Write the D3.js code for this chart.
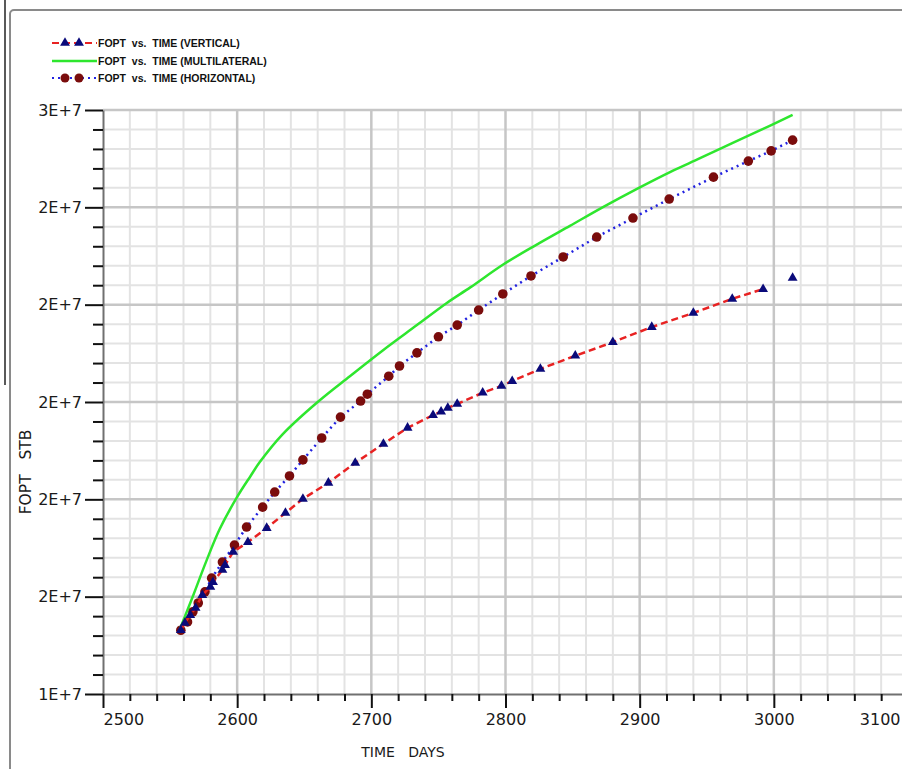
<!DOCTYPE html>
<html>
<head>
<meta charset="utf-8">
<script src="https://cdn.jsdelivr.net/npm/d3@7"></script>
<style>
  body { margin: 0; background: #fff; }
  svg { display: block; }
  .tick text { font-family: "DejaVu Sans", sans-serif; font-size: 16px; fill: #1a1a1a; }
</style>
</head>
<body>
<div id="chart_div"></div>
<script>
// FOPT (STB) vs time (days) for three well types
const timeVertical = [2558, 2561, 2565, 2569, 2574, 2580, 2582, 2589, 2591, 2597, 2608, 2622, 2636, 2649, 2668, 2688, 2709, 2727, 2746, 2752, 2757, 2764, 2783, 2797, 2805, 2826, 2852, 2880, 2909, 2940, 2969, 2992, 3014];
const foptVertical = [15.31e6, 15.46e6, 15.62e6, 15.77e6, 16.03e6, 16.20e6, 16.30e6, 16.55e6, 16.65e6, 16.92e6, 17.12e6, 17.41e6, 17.72e6, 18.01e6, 18.34e6, 18.75e6, 19.14e6, 19.47e6, 19.73e6, 19.80e6, 19.88e6, 19.96e6, 20.19e6, 20.33e6, 20.43e6, 20.68e6, 20.95e6, 21.23e6, 21.54e6, 21.83e6, 22.12e6, 22.32e6, 22.55e6];

const timeMulti = [2557, 2567, 2577, 2587, 2600, 2610, 2617, 2634, 2660, 2684, 2709, 2734, 2756, 2774, 2798, 2823, 2848, 2873, 2898, 2923, 2945, 2969, 2992, 3014];
const foptMulti = [15.31e6, 16.01e6, 16.73e6, 17.39e6, 18.05e6, 18.48e6, 18.77e6, 19.34e6, 20.00e6, 20.53e6, 21.07e6, 21.58e6, 22.03e6, 22.36e6, 22.82e6, 23.23e6, 23.62e6, 24.01e6, 24.38e6, 24.73e6, 25.01e6, 25.32e6, 25.61e6, 25.90e6];

const timeHoriz = [2558, 2563, 2567, 2571, 2576, 2581, 2589, 2598, 2607, 2619, 2628, 2639, 2649, 2663, 2677, 2692, 2697, 2713, 2721, 2734, 2750, 2764, 2780, 2798, 2819, 2843, 2868, 2895, 2922, 2955, 2981, 2998, 3014];
const foptHoriz = [15.31e6, 15.48e6, 15.69e6, 15.87e6, 16.10e6, 16.38e6, 16.71e6, 17.06e6, 17.43e6, 17.84e6, 18.15e6, 18.48e6, 18.81e6, 19.26e6, 19.69e6, 20.02e6, 20.16e6, 20.53e6, 20.74e6, 21.01e6, 21.34e6, 21.58e6, 21.89e6, 22.22e6, 22.59e6, 22.98e6, 23.39e6, 23.78e6, 24.17e6, 24.62e6, 24.95e6, 25.16e6, 25.38e6];

const xTickValues = [2500, 2600, 2700, 2800, 2900, 3000, 3100];
const yTickValues = [14e6, 16e6, 18e6, 20e6, 22e6, 24e6, 26e6];
const yTickLabels = ["1E+7", "2E+7", "2E+7", "2E+7", "2E+7", "2E+7", "3E+7"];

const legendLabels = ["FOPT  vs.  TIME (VERTICAL)", "FOPT  vs.  TIME (MULTILATERAL)", "FOPT  vs.  TIME (HORIZONTAL)"];

(function () {
  const W = 902, H = 769;
  const left = 103, top = 110, bottom = 694;

  const svg = d3.select("#chart_div").append("svg")
    .attr("width", W).attr("height", H);

  // outer frame + stray border line
  svg.append("rect")
    .attr("x", 10).attr("y", 10).attr("width", 910).attr("height", 780).attr("rx", 4)
    .attr("fill", "none").attr("stroke", "#8a8a8a").attr("stroke-width", 2);
  svg.append("line")
    .attr("x1", 5).attr("x2", 5).attr("y1", 0).attr("y2", 385)
    .attr("stroke", "#222").attr("stroke-width", 1.5);

  const x = d3.scaleLinear().domain([2500, 3100]).range([left, 908]);
  const y = d3.scaleLinear().domain([14e6, 26e6]).range([bottom, top]);

  const xMinor = d3.range(2500, 3101, 20).filter(d => d % 100 !== 0);
  const yMinor = d3.range(14e6, 26e6 + 1, 4e5).filter(d => Math.round(d / 4e5) % 5 !== 0);

  // grid
  const grid = svg.append("g");
  grid.selectAll(".vmin").data(xMinor).enter().append("line")
    .attr("x1", d => x(d)).attr("x2", d => x(d)).attr("y1", top).attr("y2", bottom)
    .attr("stroke", "#e3e3e3").attr("stroke-width", 2);
  grid.selectAll(".hmin").data(yMinor).enter().append("line")
    .attr("x1", left).attr("x2", W).attr("y1", d => y(d)).attr("y2", d => y(d))
    .attr("stroke", "#e3e3e3").attr("stroke-width", 2);
  grid.selectAll(".vmaj").data(xTickValues.slice(1)).enter().append("line")
    .attr("x1", d => x(d)).attr("x2", d => x(d)).attr("y1", top).attr("y2", bottom)
    .attr("stroke", "#c6c6c6").attr("stroke-width", 2.5);
  grid.selectAll(".hmaj").data(yTickValues.slice(1)).enter().append("line")
    .attr("x1", left).attr("x2", W).attr("y1", d => y(d)).attr("y2", d => y(d))
    .attr("stroke", "#c6c6c6").attr("stroke-width", 2.5);

  // axes
  svg.append("g").attr("transform", "translate(" + left + ",0)")
    .call(d3.axisLeft(y).tickValues(yTickValues).tickSize(18).tickSizeOuter(0).tickPadding(3)
      .tickFormat((d, i) => yTickLabels[i]));
  svg.append("g").attr("transform", "translate(" + left + ",0)")
    .call(d3.axisLeft(y).tickValues(yMinor).tickSize(10).tickSizeOuter(0).tickFormat(""))
    .select(".domain").remove();

  const xAxis = svg.append("g").attr("transform", "translate(0," + bottom + ")")
    .call(d3.axisBottom(x).tickValues(xTickValues).tickSize(14).tickSizeOuter(0).tickPadding(6)
      .tickFormat(d3.format("d")));
  svg.append("g").attr("transform", "translate(0," + bottom + ")")
    .call(d3.axisBottom(x).tickValues(xMinor).tickSize(7).tickSizeOuter(0).tickFormat(""))
    .select(".domain").remove();

  svg.selectAll(".domain").attr("stroke", "#707070").attr("stroke-width", 2);
  svg.selectAll(".tick line").attr("stroke", "#111").attr("stroke-width", 2);

  // first and last x labels kept inside
  xAxis.selectAll(".tick text")
    .attr("text-anchor", (d, i) => i === 0 ? "start" : (i === xTickValues.length - 1 ? "end" : "middle"))
    .attr("dx", (d, i) => i === xTickValues.length - 1 ? -8 : 0);

  // axis titles
  svg.append("text")
    .attr("transform", "translate(31,472) rotate(-90)")
    .attr("text-anchor", "middle")
    .style("font-family", "DejaVu Sans, sans-serif").style("font-size", "15.5px").style("white-space", "pre")
    .attr("fill", "#1a1a1a")
    .text("FOPT   STB");
  svg.append("text")
    .attr("x", 403).attr("y", 757)
    .attr("text-anchor", "middle")
    .style("font-family", "DejaVu Sans, sans-serif").style("font-size", "14px").style("white-space", "pre")
    .attr("fill", "#1a1a1a")
    .text("TIME   DAYS");

  const plot = svg.append("g");
  const tri = d3.symbol().type(d3.symbolTriangle).size(42);

  // horizontal: blue dotted + dark red circles
  const horiz = timeHoriz.map((t, i) => [t, foptHoriz[i]]);
  plot.append("path").datum(horiz)
    .attr("fill", "none").attr("stroke", "#2222e0").attr("stroke-width", 2.5)
    .attr("stroke-dasharray", "2,4")
    .attr("d", d3.line().x(d => x(d[0])).y(d => y(d[1])));
  plot.selectAll(".hc").data(horiz).enter().append("circle")
    .attr("cx", d => x(d[0])).attr("cy", d => y(d[1])).attr("r", 4.8)
    .attr("fill", "#7a0c0c");

  // multilateral: green solid
  const multi = timeMulti.map((t, i) => [t, foptMulti[i]]);
  plot.append("path").datum(multi)
    .attr("fill", "none").attr("stroke", "#2ee62e").attr("stroke-width", 2.5)
    .attr("d", d3.line().curve(d3.curveCatmullRom).x(d => x(d[0])).y(d => y(d[1])));

  // vertical: red dashed + navy triangles (last sample not joined)
  const vert = timeVertical.map((t, i) => [t, foptVertical[i]]);
  plot.append("path").datum(vert.slice(0, -1))
    .attr("fill", "none").attr("stroke", "#e82222").attr("stroke-width", 2.5)
    .attr("stroke-dasharray", "7,4")
    .attr("d", d3.line().x(d => x(d[0])).y(d => y(d[1])));
  plot.selectAll(".vt").data(vert).enter().append("path")
    .attr("transform", d => "translate(" + x(d[0]) + "," + y(d[1]) + ")")
    .attr("d", tri).attr("fill", "#0a0a7a");

  // legend
  const leg = svg.append("g");
  const ly = [43, 61, 78];
  leg.append("line").attr("x1", 52).attr("x2", 97).attr("y1", ly[0]).attr("y2", ly[0])
    .attr("stroke", "#e82222").attr("stroke-width", 2).attr("stroke-dasharray", "7,4");
  [65, 79].forEach(cx => leg.append("path").attr("transform", "translate(" + cx + "," + ly[0] + ")")
    .attr("d", tri).attr("fill", "#0a0a7a"));
  leg.append("line").attr("x1", 52).attr("x2", 97).attr("y1", ly[1]).attr("y2", ly[1])
    .attr("stroke", "#2ee62e").attr("stroke-width", 2.5);
  leg.append("line").attr("x1", 52).attr("x2", 97).attr("y1", ly[2]).attr("y2", ly[2])
    .attr("stroke", "#2222e0").attr("stroke-width", 2).attr("stroke-dasharray", "2,4");
  [65, 79].forEach(cx => leg.append("circle").attr("cx", cx).attr("cy", ly[2]).attr("r", 4.5)
    .attr("fill", "#7a0c0c"));
  leg.selectAll(".lt").data(legendLabels).enter().append("text")
    .attr("x", 98).attr("y", (d, i) => ly[i] + 4)
    .style("font-family", "Liberation Sans, Arial, sans-serif").style("font-size", "10.5px")
    .style("font-weight", "bold").style("white-space", "pre")
    .attr("fill", "#111")
    .text(d => d);
})();
</script>
</body>
</html>
